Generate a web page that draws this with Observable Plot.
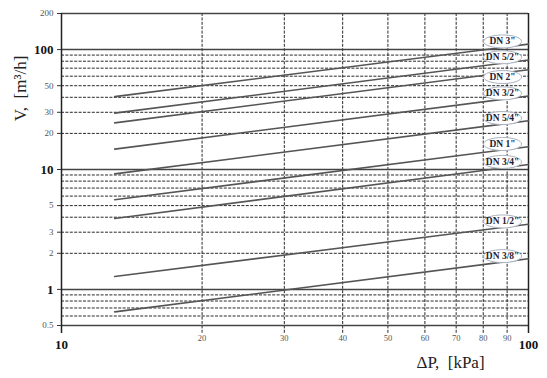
<!DOCTYPE html>
<html>
<head>
<meta charset="utf-8">
<script src="https://cdn.jsdelivr.net/npm/d3@7"></script>
<script src="https://cdn.jsdelivr.net/npm/@observablehq/plot@0.6"></script>
<style>
  html, body { margin: 0; padding: 0; background: #fff; }
  #chart { width: 547px; height: 378px; }
</style>
</head>
<body>
<div id="chart"></div>
<script>
// ---- data ----
const sizes = ['DN 3"', 'DN 5/2"', 'DN 2"', 'DN 3/2"', 'DN 5/4"', 'DN 1"', 'DN 3/4"', 'DN 1/2"', 'DN 3/8"'];
const pressureRange = [13, 100];                 // kPa, start and end of every line
const flowAtStart = [40.5, 29.5, 24.5, 14.8, 9.2, 5.6, 3.9, 1.28, 0.65]; // m3/h at 13 kPa
const flowAtEnd   = [111, 82, 68, 41, 25.5, 15.5, 11, 3.5, 1.8];        // m3/h at 100 kPa
const labelPressure = 88;                        // kPa where the labels sit

const yMinorLabels = [0.5, 2, 3, 5, 20, 30, 50, 200];
const yMajorLabels = [1, 10, 100];
const xMinorLabels = [20, 30, 40, 50, 60, 70, 80, 90];
const xMajorLabels = [10, 100];
const yDashed = [0.6, 0.7, 0.8, 0.9, 2, 3, 4, 5, 6, 7, 8, 9, 20, 30, 40, 50, 60, 70, 80, 90];
const ySolid = [0.5, 1, 10, 100, 200];
const xDashed = [20, 30, 40, 50, 60, 70, 80, 90];
const xSolid = [10, 100];
const yTitle = "V,  [m³/h]";
const xTitle = "ΔP,  [kPa]";

// ---- tables ----
const lineRows = [];
sizes.forEach((name, i) => {
  lineRows.push({name, p: pressureRange[0], v: flowAtStart[i]});
  lineRows.push({name, p: pressureRange[1], v: flowAtEnd[i]});
});
const labelRows = sizes.map((name, i) => {
  const t = Math.log(labelPressure / pressureRange[0]) / Math.log(pressureRange[1] / pressureRange[0]);
  const v = flowAtStart[i] * Math.pow(flowAtEnd[i] / flowAtStart[i], t);
  return {name, p: labelPressure, v};
});
const labelsAbove = labelRows.filter(d => d.name !== 'DN 2"');
const labelsOn = labelRows.filter(d => d.name === 'DN 2"');

const ellipse = {
  draw(ctx) {
    const rx = 19, ry = 6.5, k = 0.5523;
    ctx.moveTo(rx, 0);
    ctx.bezierCurveTo(rx, ry * k, rx * k, ry, 0, ry);
    ctx.bezierCurveTo(-rx * k, ry, -rx, ry * k, -rx, 0);
    ctx.bezierCurveTo(-rx, -ry * k, -rx * k, -ry, 0, -ry);
    ctx.bezierCurveTo(rx * k, -ry, rx, -ry * k, rx, 0);
    ctx.closePath();
  }
};

const serif = "'Liberation Serif', 'DejaVu Serif', serif";
const dash = "3,1.4";
const plotW = 547 - 61 - 19;

function labelMarks(rows, dy) {
  return [
    Plot.dot(rows, {x: "p", y: "v", dy, symbol: ellipse, r: 5, fill: "#fff", stroke: "#aab3c2", strokeWidth: 1}),
    Plot.text(rows, {x: "p", y: "v", dy, text: "name", fontSize: 9.5, fontWeight: "bold", fill: "#1d2233",
      fontFamily: serif})
  ];
}

const chart = Plot.plot({
  width: 547,
  height: 378,
  marginLeft: 61,
  marginRight: 19,
  marginTop: 13,
  marginBottom: 53,
  style: {fontFamily: serif, background: "#fff", color: "#222"},
  x: {type: "log", domain: [10, 100], label: null, axis: null},
  y: {type: "log", domain: [0.5, 200], label: null, axis: null},
  marks: [
    Plot.ruleY(yDashed, {stroke: "#111", strokeWidth: 0.9, strokeDasharray: dash}),
    Plot.ruleX(xDashed, {stroke: "#111", strokeWidth: 0.9, strokeDasharray: dash, insetBottom: -8}),
    Plot.ruleY(ySolid, {stroke: "#444", strokeWidth: 1.5}),
    Plot.ruleX(xSolid, {stroke: "#222", strokeWidth: 1.5, insetBottom: -8}),
    // y tick marks left of the frame
    Plot.ruleY([...yMinorLabels, ...yMajorLabels], {stroke: "#333", strokeWidth: 1, insetLeft: -4, insetRight: plotW}),
    Plot.line(lineRows, {x: "p", y: "v", z: "name", stroke: "#555", strokeWidth: 1.6}),
    ...labelMarks(labelsAbove, -6),
    ...labelMarks(labelsOn, 4),
    // y tick labels
    Plot.text(yMinorLabels, {y: d => d, frameAnchor: "left", dx: -8, textAnchor: "end", text: d => String(d),
      fontSize: 9, fill: "#555"}),
    Plot.text(yMajorLabels, {y: d => d, frameAnchor: "left", dx: -8, textAnchor: "end", text: d => String(d),
      fontSize: 13, fontWeight: "bold", fill: "#111"}),
    // x tick labels
    Plot.text(xMinorLabels, {x: d => d, frameAnchor: "bottom", dy: 13, lineAnchor: "middle", text: d => String(d),
      fontSize: 8.5, fill: "#555"}),
    Plot.text(xMajorLabels, {x: d => d, frameAnchor: "bottom", dy: 19, lineAnchor: "middle", text: d => String(d),
      fontSize: 13, fontWeight: "bold", fill: "#111"}),
    // axis titles
    Plot.text([yTitle], {frameAnchor: "top-left", text: d => d, rotate: -90, dx: -41, dy: 75, fontSize: 17,
      fill: "#222", textAnchor: "middle", lineAnchor: "middle"}),
    Plot.text([xTitle], {frameAnchor: "bottom-right", text: d => d, dx: -78, dy: 37, fontSize: 17,
      fill: "#222", textAnchor: "middle", lineAnchor: "middle"})
  ]
});
document.getElementById("chart").appendChild(chart);
</script>
</body>
</html>
